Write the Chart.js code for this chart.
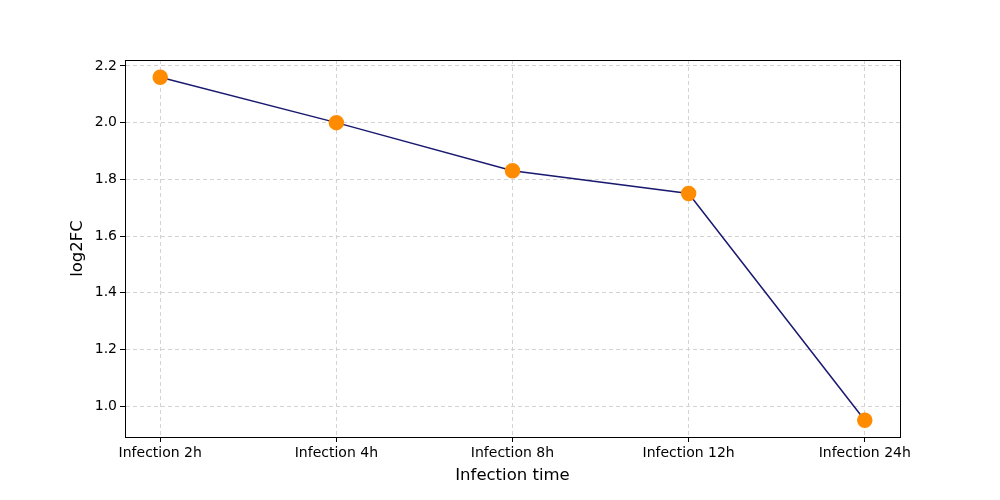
<!DOCTYPE html>
<html>

<head>
	<meta charset="UTF-8">
	<script src="https://cdn.jsdelivr.net/npm/chart.js@4.4.0/dist/chart.umd.min.js"></script>
	<style>
		html, body { margin: 0; padding: 0; background: #fff; }
		#wrap { width: 1000px; height: 500px; }
	</style>
</head>

<body>
	<div id="wrap">
		<canvas id="logChart" width="1000" height="500"></canvas>
	</div>
	<script>
		// 데이터
		var timeLabels = ['Infection 2h', 'Infection 4h', 'Infection 8h', 'Infection 12h', 'Infection 24h'];
		var log2fcValues = [2.16, 2.0, 1.83, 1.75, 0.95];
		var yTicks = [1.0, 1.2, 1.4, 1.6, 1.8, 2.0, 2.2];

		var points = log2fcValues.map(function (v, i) { return { x: i, y: v }; });

		// 사각 테두리 (matplotlib 스타일)
		var frame = {
			id: 'frame',
			afterDraw: function (chart) {
				var a = chart.chartArea;
				var ctx = chart.ctx;
				ctx.save();
				ctx.strokeStyle = '#000';
				ctx.lineWidth = 1;
				ctx.strokeRect(Math.round(a.left) + 0.5, Math.round(a.top) + 0.5,
					Math.round(a.right - a.left), Math.round(a.bottom - a.top));
				ctx.restore();
			}
		};

		var ctx = document.getElementById('logChart').getContext('2d');
		var myChart = new Chart(ctx, {
			type: 'line',
			data: {
				datasets: [{
					data: points,
					borderColor: '#191970',
					borderWidth: 1.5,
					pointBackgroundColor: '#ff8c00',
					pointBorderColor: '#ff8c00',
					pointRadius: 7,
					pointHoverRadius: 7,
					fill: false,
					tension: 0
				}]
			},
			plugins: [frame],
			options: {
				responsive: false,
				animation: false,
				layout: { padding: { left: 68, right: 100, top: 60, bottom: 14 } },
				plugins: {
					legend: { display: false },
					tooltip: { enabled: false }
				},
				scales: {
					x: {
						type: 'linear',
						min: -0.2,
						max: 4.2,
						afterBuildTicks: function (axis) {
							axis.ticks = timeLabels.map(function (t, i) { return { value: i }; });
						},
						afterFit: function (axis) { axis.height = 49; },
						ticks: {
							color: '#000',
							font: { family: 'DejaVu Sans', size: 14 },
							padding: 3,
							maxRotation: 0,
							callback: function (v) { return timeLabels[v]; }
						},
						grid: {
							color: '#d3d3d3',
							tickColor: '#000',
							tickLength: 5,
							tickBorderDash: [],
						},
						border: { color: '#000', dash: [4, 3] },
						title: {
							display: true,
							text: 'Infection time',
							color: '#000',
							font: { family: 'DejaVu Sans', size: 16.5 },
							padding: { top: 2, bottom: 0 }
						}
					},
					y: {
						min: 0.891,
						max: 2.221,
						afterBuildTicks: function (axis) {
							axis.ticks = yTicks.map(function (v) { return { value: v }; });
						},
						afterFit: function (axis) { axis.width = 57; },
						ticks: {
							color: '#000',
							font: { family: 'DejaVu Sans', size: 14 },
							padding: 3,
							callback: function (v) { return v.toFixed(1); }
						},
						grid: {
							color: '#d3d3d3',
							tickColor: '#000',
							tickLength: 5,
							tickBorderDash: []
						},
						border: { color: '#000', dash: [4, 3] },
						title: {
							display: true,
							text: 'log2FC',
							color: '#000',
							font: { family: 'DejaVu Sans', size: 16.5 },
							padding: { top: 0, bottom: 6 }
						}
					}
				}
			}
		});
	</script>
</body>

</html>
